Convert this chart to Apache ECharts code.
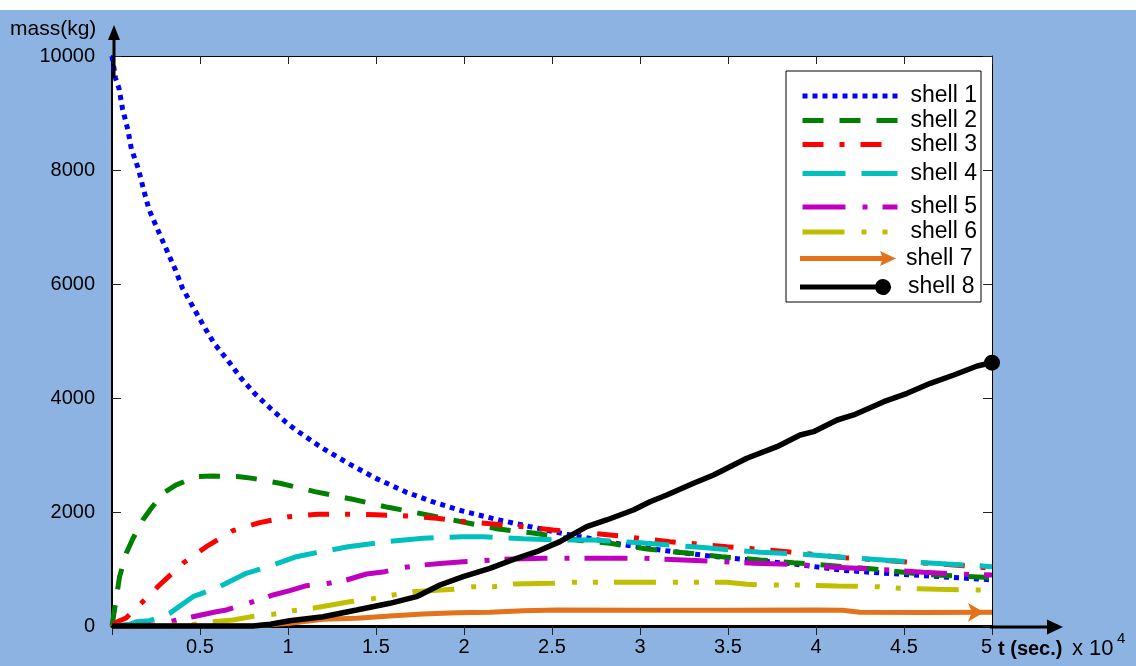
<!DOCTYPE html>
<html><head><meta charset="utf-8">
<script src="https://cdn.jsdelivr.net/npm/echarts@6/dist/echarts.min.js"></script>
<style>html,body{margin:0;padding:0;}#c{width:1136px;height:666px;background:linear-gradient(to bottom,#fff 0,#fff 10px,#8DB3E2 10px);}</style>
</head><body><div id="c"></div>
<script>
// x in units of 10^4 s, y in kg
const seriesNames = ['shell 1','shell 2','shell 3','shell 4','shell 5','shell 6','shell 7','shell 8'];
const xTickValues = [0.5,1,1.5,2,2.5,3,3.5,4,4.5,5];
const yTickValues = [0,2000,4000,6000,8000,10000];

const shell1 = [[0,10000],[0.02,9610],[0.04,9430],[0.06,9070],[0.09,8710],[0.11,8370],[0.15,8020],[0.18,7650],[0.21,7310],[0.26,6950],[0.31,6600],[0.36,6250],[0.40,5930],[0.46,5600],[0.52,5270],[0.58,4960],[0.66,4650],[0.73,4360],[0.81,4080],[0.90,3820],[0.99,3570],[1.04,3450],[1.19,3130],[1.35,2840],[1.50,2590],[1.67,2350],[1.84,2160],[2.0,2010],[2.2,1860],[2.38,1740],[2.55,1630],[2.9,1430],[3.15,1320],[3.39,1230],[3.65,1150],[3.87,1090],[4.16,975],[4.42,920],[4.71,865],[5.0,810]];
const shell2 = [[0,0],[0.014,280],[0.043,865],[0.081,1275],[0.115,1510],[0.175,1860],[0.223,2065],[0.289,2330],[0.365,2475],[0.479,2620],[0.573,2630],[0.725,2620],[0.8,2590],[0.953,2505],[1.152,2357],[1.36,2228],[1.569,2082],[1.778,1959],[1.986,1830],[2.195,1702],[2.403,1626],[2.66,1500],[2.83,1451],[3.04,1351],[3.247,1286],[3.465,1216],[3.683,1158],[3.873,1111],[4.328,1000],[4.61,907],[4.953,854],[5.0,850]];
const shell3 = [[0,0],[0.03,75],[0.08,140],[0.166,398],[0.27,719],[0.403,1100],[0.536,1391],[0.687,1672],[0.839,1813],[1.006,1918],[1.17,1960],[1.34,1960],[1.503,1953],[1.673,1930],[1.844,1889],[2.005,1830],[2.166,1789],[2.337,1742],[2.507,1684],[2.83,1597],[3.0,1539],[3.17,1480],[3.494,1391],[3.835,1304],[4.167,1198],[4.498,1128],[4.84,1058],[5.0,1012]];
const shell4 = [[0,0],[0.1,30],[0.137,75],[0.213,93],[0.327,222],[0.46,514],[0.611,690],[0.763,924],[0.915,1070],[1.048,1216],[1.123,1263],[1.341,1391],[1.56,1480],[1.768,1539],[1.995,1567],[2.11,1567],[2.337,1532],[2.545,1509],[2.735,1509],[3.0,1462],[3.342,1380],[3.683,1293],[3.91,1263],[4.233,1188],[4.574,1117],[4.916,1058],[5.0,1041]];
const shell5 = [[0,0],[0.25,20],[0.327,75],[0.46,163],[0.593,251],[0.65,281],[0.773,398],[0.915,544],[1.01,620],[1.105,708],[1.209,737],[1.332,807],[1.446,912],[1.55,953],[1.664,1030],[1.768,1070],[1.882,1100],[1.995,1128],[2.11,1146],[2.223,1170],[2.45,1188],[2.79,1188],[3.02,1188],[3.247,1158],[3.474,1128],[3.645,1100],[3.8,1088],[3.93,1070],[4.04,1041],[4.233,1012],[4.42,982],[4.61,942],[4.84,907],[5.0,895]];
const shell6 = [[0,0],[0.45,20],[0.573,75],[0.687,105],[0.79,163],[0.915,205],[1.028,270],[1.142,310],[1.35,426],[1.474,474],[1.597,544],[1.711,602],[1.94,644],[2.052,690],[2.166,690],[2.28,737],[2.507,749],[2.62,767],[2.858,767],[3.096,767],[3.323,767],[3.494,767],[3.607,731],[3.683,719],[3.91,719],[4.12,702],[4.347,690],[4.48,661],[4.69,644],[4.935,632],[5.0,630]];
const shell7 = [[0,0],[0.8,5],[0.9,20],[1.01,47],[1.2,117],[1.39,135],[1.578,175],[1.768,210],[1.958,234],[2.147,240],[2.337,269],[2.527,281],[3.0,275],[3.5,275],[4.0,282],[4.15,278],[4.25,240],[4.6,238],[5.0,240]];
const shell8 = [[0,0],[0.8,0],[0.9,30],[1.01,93],[1.2,163],[1.39,281],[1.578,398],[1.73,514],[1.863,719],[1.995,865],[2.147,1012],[2.3,1188],[2.413,1304],[2.545,1480],[2.697,1742],[2.81,1860],[2.962,2035],[3.057,2181],[3.152,2298],[3.304,2503],[3.418,2649],[3.607,2942],[3.778,3146],[3.91,3351],[3.986,3409],[4.12,3614],[4.214,3702],[4.385,3935],[4.518,4082],[4.65,4258],[4.783,4404],[4.916,4561],[5.0,4620]];
const allData = [shell1,shell2,shell3,shell4,shell5,shell6,shell7,shell8];

const FONT = '"Liberation Sans", Arial, Helvetica, sans-serif';
const lineStyles = [
  {color:'#0000FF', type:[5,5], width:5},
  {color:'#008000', type:[21,16], width:5},
  {color:'#FF0000', type:[21,16,5,16], width:5},
  {color:'#00BFBF', type:[43,16], width:5},
  {color:'#BF00BF', type:[43,17,5,15], width:5},
  {color:'#BFBF00', type:[42,17,5,16,5,16], width:5},
  {color:'#E3721B', type:'solid', width:5},
  {color:'#000000', type:'solid', width:5.5}
];
const ARROW_ICON = 'path://M0,5.5 L82,5.5 L80,0.5 L96,8 L80,15.5 L82,10.5 L0,10.5 Z';
const DOT_ICON = 'path://M0,5.5 L75.4,5.5 A8,8 0 1,1 75.4,10.5 L0,10.5 Z';
const legendCenters = [92.5,117,141,170,203.5,228.5,255,283.5];

const chart = echarts.init(document.getElementById('c'), null, {renderer:'canvas'});

const series = allData.map((d, i) => {
  const items = d.map(p => [p[0], p[1]]);
  const last = items.length - 1;
  if (i === 6) items[last] = {value: items[last], symbol:'arrow', symbolSize:[14,16], symbolRotate:-90, symbolOffset:[-8,0]};
  if (i === 7) items[last] = {value: items[last], symbol:'circle', symbolSize:16};
  return {
    type:'line', name: seriesNames[i], data: items, symbol:'none', xAxisIndex:0, yAxisIndex:0,
    lineStyle:{color:lineStyles[i].color, type:lineStyles[i].type, width:lineStyles[i].width, cap:'butt'},
    itemStyle:{color:lineStyles[i].color, borderWidth:0},
    silent:true, clip:false, z: 2 + i * 0.1, emphasis:{disabled:true}, animation:false
  };
});

const legends = seriesNames.map((n, i) => ({
  show:true,
  data:[ i === 6 ? {name:n, icon:ARROW_ICON} : (i === 7 ? {name:n, icon:DOT_ICON} : n) ],
  left:800, top: legendCenters[i] - 8, padding:0,
  itemWidth: i === 6 ? 96 : (i === 7 ? 91 : 95), itemHeight:16,
  selectedMode:false, orient:'horizontal',
  itemStyle: i < 6 ? {opacity:0, borderWidth:0} : {opacity:1, borderWidth:0},
  lineStyle:{width:lineStyles[i].width, type:lineStyles[i].type, color:lineStyles[i].color, cap:'butt'},
  textStyle:{fontFamily:FONT, fontSize:23, color:'#000', lineHeight:16, padding:[0,0,0, i === 6 ? 5 : (i === 7 ? 12 : 8)]},
  z:10
}));

const option = {
  animation:false,
  backgroundColor:'transparent',
  grid:{left:112, right:144, top:56, bottom:40, show:true, backgroundColor:'#fff', borderWidth:0, containLabel:false},
  xAxis:[
    {type:'value', min:0, max:5, interval:0.5, position:'bottom',
     axisLine:{show:true, onZero:false, lineStyle:{color:'#000', width:3}},
     axisTick:{show:true, inside:false, length:9, lineStyle:{color:'#222', width:1}},
     axisLabel:{show:true, margin:11, fontFamily:FONT, fontSize:20, color:'#000',
       formatter: v => (xTickValues.indexOf(v) >= 0 ? String(v) : ''), alignMaxLabel:'right'},
     splitLine:{show:false}},
    {type:'value', min:0, max:5, interval:0.5, position:'top',
     axisLine:{show:true, onZero:false, lineStyle:{color:'#000', width:1}},
     axisTick:{show:true, inside:true, length:8, lineStyle:{color:'#222', width:1}},
     axisLabel:{show:false}, splitLine:{show:false}}
  ],
  yAxis:[
    {type:'value', min:0, max:10000, interval:2000, position:'left',
     axisLine:{show:true, onZero:false, lineStyle:{color:'#000', width:2}},
     axisTick:{show:true, inside:true, length:9, lineStyle:{color:'#222', width:1}},
     axisLabel:{show:true, margin:17, fontFamily:FONT, fontSize:20, color:'#000',
       formatter: v => (yTickValues.indexOf(v) >= 0 ? String(v) : '')},
     splitLine:{show:false}},
    {type:'value', min:0, max:10000, interval:2000, position:'right',
     axisLine:{show:true, onZero:false, lineStyle:{color:'#000', width:1}},
     axisTick:{show:true, inside:true, length:9, lineStyle:{color:'#222', width:1}},
     axisLabel:{show:false}, splitLine:{show:false}}
  ],
  legend: legends,
  series: series
};
chart.setOption(option);

const o = chart.convertToPixel({gridIndex:0}, [0, 0]);
const xe = chart.convertToPixel({gridIndex:0}, [5, 0]);
const yt = chart.convertToPixel({gridIndex:0}, [0, 10000]);
const ax = o[0] + 2, tipY = yt[1] - 31;
const bx = xe[0], by = o[1] + 1;
chart.setOption({
  graphic:[
    {type:'rect', z:5, silent:true, shape:{x:786, y:71, width:195, height:231}, style:{fill:'#fff', stroke:'#000', lineWidth:1}},
    {type:'line', z:20, silent:true, shape:{x1:ax, y1:yt[1] + 22, x2:ax, y2:tipY + 12}, style:{stroke:'#000', lineWidth:3}},
    {type:'polygon', z:20, silent:true, shape:{points:[[ax - 6, tipY + 15], [ax, tipY], [ax + 6, tipY + 15]]}, style:{fill:'#000'}},
    {type:'line', z:20, silent:true, shape:{x1:bx - 2, y1:by, x2:bx + 58, y2:by}, style:{stroke:'#000', lineWidth:3}},
    {type:'polygon', z:20, silent:true, shape:{points:[[bx + 55, by - 7.5], [bx + 71, by], [bx + 55, by + 7.5]]}, style:{fill:'#000'}},
    {type:'text', z:20, silent:true, x:10, y:29, style:{text:'mass(kg)', fontFamily:FONT, fontSize:21, fill:'#000', align:'left', verticalAlign:'middle'}},
    {type:'text', z:20, silent:true, x:bx + 6, y:by + 22, style:{text:'t (sec.)', fontFamily:FONT, fontSize:20, fontWeight:'bold', fill:'#000', align:'left', verticalAlign:'middle'}},
    {type:'text', z:20, silent:true, x:bx + 80, y:by + 22, style:{text:'x 10', fontFamily:FONT, fontSize:22, fill:'#000', align:'left', verticalAlign:'middle'}},
    {type:'text', z:20, silent:true, x:bx + 125, y:by + 12, style:{text:'4', fontFamily:FONT, fontSize:15, fill:'#000', align:'left', verticalAlign:'middle'}}
  ]
});
</script></body></html>
